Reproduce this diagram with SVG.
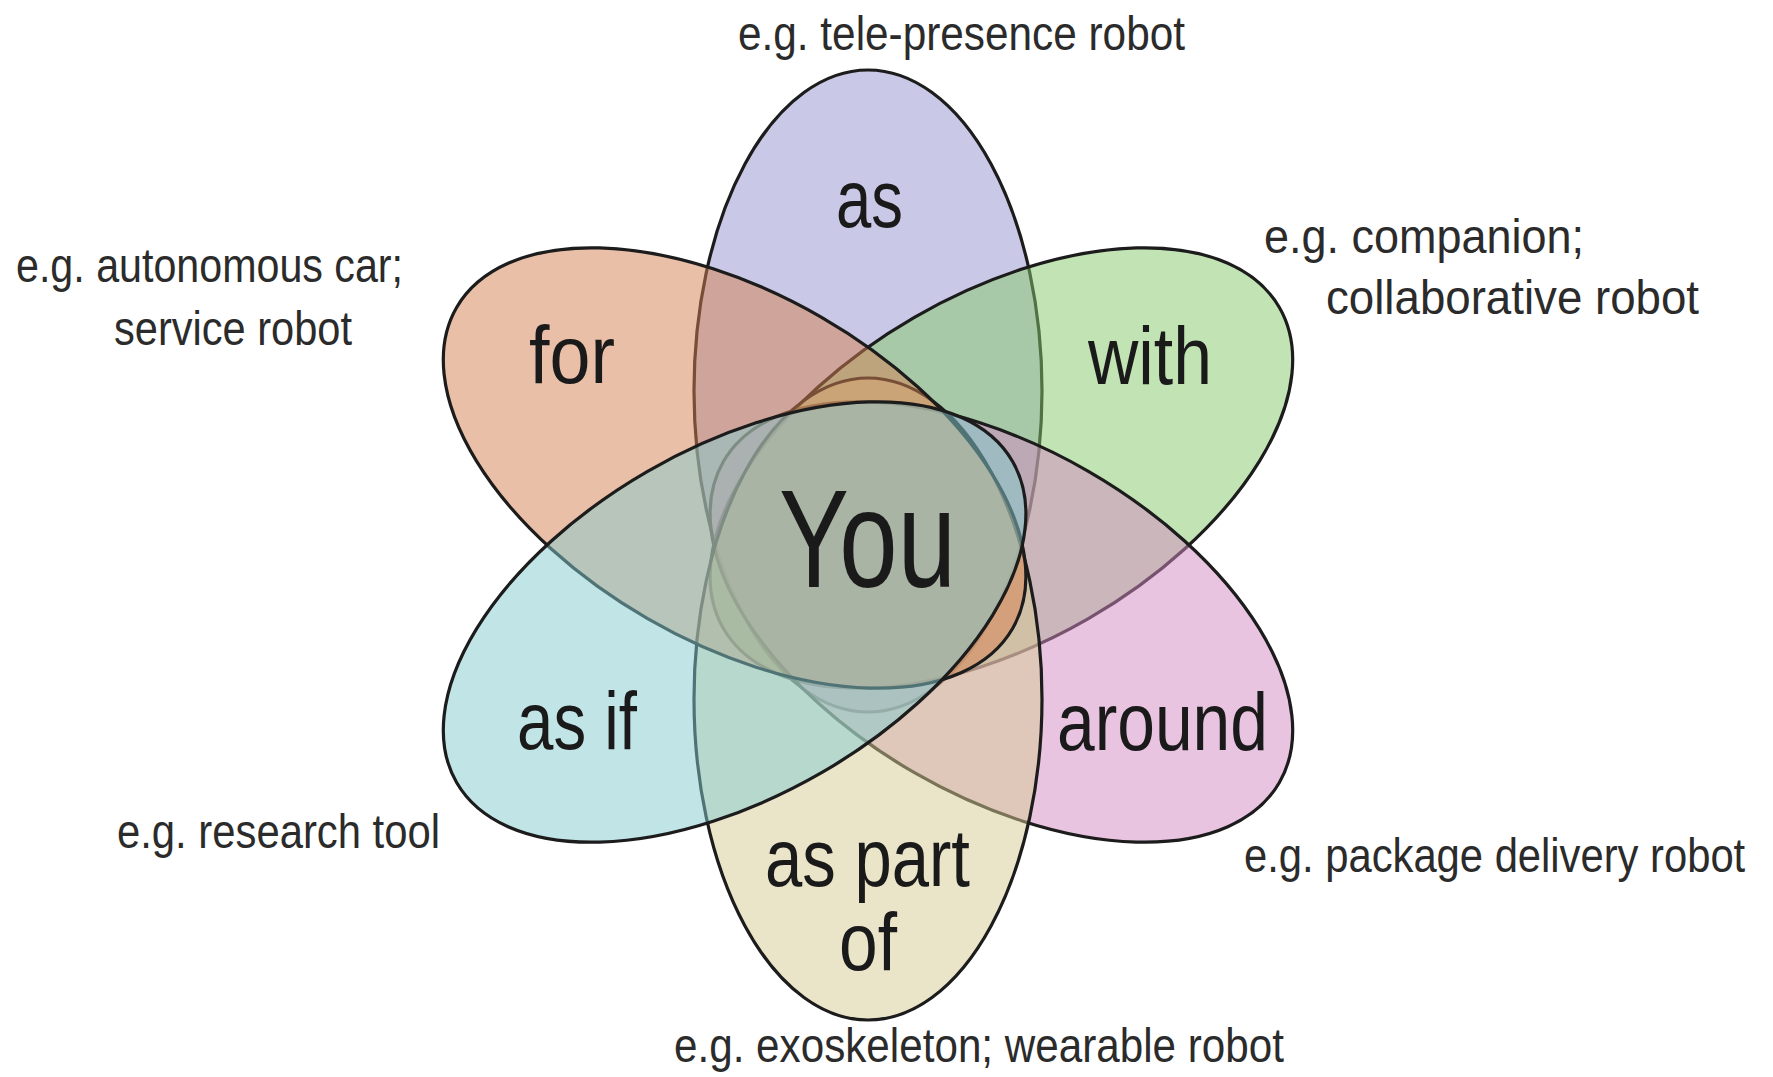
<svg xmlns="http://www.w3.org/2000/svg" width="1773" height="1077" viewBox="0 0 1773 1077">
<style>
.petal{stroke:#1c1c1c;stroke-width:3.2;fill-opacity:0.5}
.lbl{font-family:"Liberation Sans Narrow","Liberation Sans",Arial,sans-serif;font-size:82px;fill:#1a1a1a}
.ex{font-family:"Liberation Sans Narrow","Liberation Sans",Arial,sans-serif;font-size:48px;fill:#2b2b2b}
.you{font-family:"Liberation Sans Narrow","Liberation Sans",Arial,sans-serif;font-size:140px;fill:#1a1a1a}
</style>
<rect x="0" y="0" width="1773" height="1077" fill="#ffffff"/>
<g id="petal-as">
  <ellipse class="petal" cx="868" cy="391" rx="174" ry="321" fill="#9391CD"/>
  <text class="lbl" x="836" y="227" textLength="67" lengthAdjust="spacingAndGlyphs">as</text>
  <text class="ex" x="738" y="50" textLength="447" lengthAdjust="spacingAndGlyphs">e.g. tele-presence robot</text>
</g>
<g id="petal-with">
  <ellipse class="petal" cx="1001.4" cy="468" rx="321" ry="174" transform="rotate(-30 1001.4 468)" fill="#85C969"/>
  <text class="lbl" x="1088" y="384" textLength="124" lengthAdjust="spacingAndGlyphs">with</text>
  <text class="ex" x="1264" y="253" textLength="320" lengthAdjust="spacingAndGlyphs">e.g. companion;</text>
  <text class="ex" x="1326" y="314" textLength="373" lengthAdjust="spacingAndGlyphs">collaborative robot</text>
</g>
<g id="petal-around">
  <ellipse class="petal" cx="1001.4" cy="622" rx="321" ry="174" transform="rotate(30 1001.4 622)" fill="#D389C1"/>
  <text class="lbl" x="1057" y="750" textLength="211" lengthAdjust="spacingAndGlyphs">around</text>
  <text class="ex" transform="translate(1244 872) scale(0.87 1)" x="0" y="0">e.g. package delivery robot</text>
</g>
<g id="petal-as-part-of">
  <ellipse class="petal" cx="868" cy="699" rx="174" ry="321" fill="#D5C991"/>
  <text class="lbl" x="765" y="886" textLength="205" lengthAdjust="spacingAndGlyphs">as part</text>
  <text class="lbl" x="839" y="970" textLength="58" lengthAdjust="spacingAndGlyphs">of</text>
  <text class="ex" x="674" y="1062" textLength="610" lengthAdjust="spacingAndGlyphs">e.g. exoskeleton; wearable robot</text>
</g>
<g id="petal-for">
  <ellipse class="petal" cx="734.6" cy="468" rx="321" ry="174" transform="rotate(30 734.6 468)" fill="#D5804F" fill-opacity="0.45"/>
  <text class="lbl" x="529" y="383" textLength="86" lengthAdjust="spacingAndGlyphs">for</text>
  <text class="ex" x="16" y="282" textLength="387" lengthAdjust="spacingAndGlyphs">e.g. autonomous car;</text>
  <text class="ex" x="114" y="345" textLength="238" lengthAdjust="spacingAndGlyphs">service robot</text>
</g>
<g id="petal-as-if">
  <ellipse class="petal" cx="734.6" cy="622" rx="321" ry="174" transform="rotate(-30 734.6 622)" fill="#83CBCF"/>
  <text class="lbl" x="517" y="749" textLength="120" lengthAdjust="spacingAndGlyphs">as if</text>
  <text class="ex" x="117" y="848" textLength="323" lengthAdjust="spacingAndGlyphs">e.g. research tool</text>
</g>
<g id="center-you">
  <text class="you" x="779" y="587" textLength="177" lengthAdjust="spacingAndGlyphs">You</text>
</g>
</svg>
